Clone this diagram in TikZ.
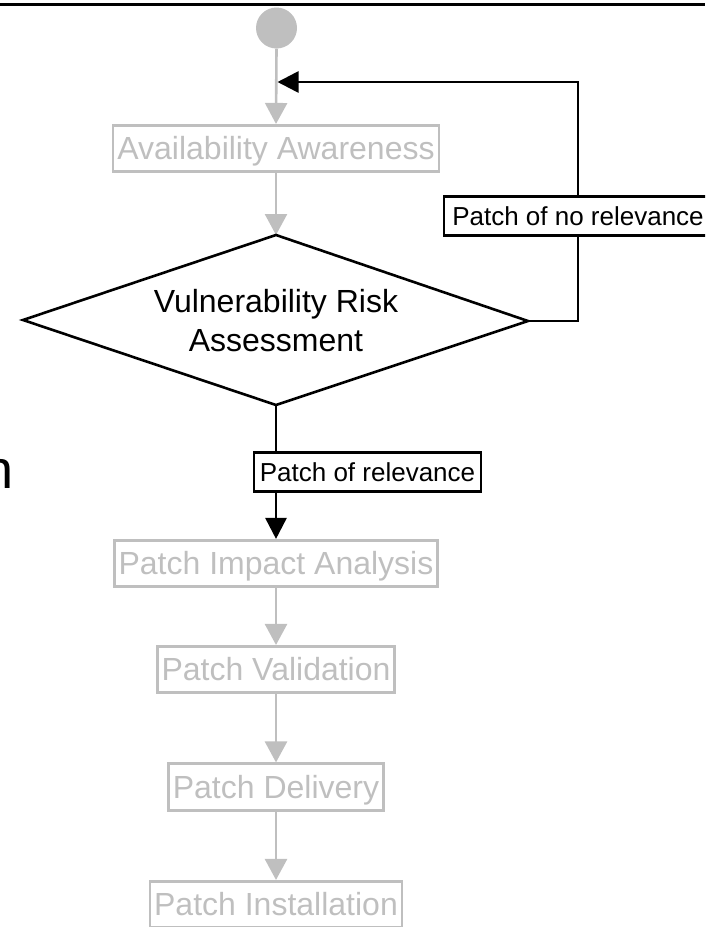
\documentclass[tikz,border=0pt]{standalone}
\usepackage{fontspec}
\setmainfont{Liberation Sans}
\usetikzlibrary{arrows.meta}
\definecolor{lgray}{RGB}{191,191,191}
\tikzset{
  graybox/.style={draw=lgray, text=lgray, line width=2.6pt, inner xsep=4.2pt, inner ysep=0pt,
    minimum height=46.5pt, text height=28.8pt, text depth=5.9pt, font=\fontsize{32}{38}\selectfont},
  lblbox/.style={draw=black, fill=white, text=black, line width=2.6pt, inner xsep=5.7pt, inner ysep=0pt,
    minimum height=39.4pt, text height=23pt, text depth=4.4pt, font=\fontsize{26}{30}\selectfont},
  grayarrow/.style={draw=lgray, line width=2.6pt, -{Triangle[length=21pt,width=22pt]}},
  blkline/.style={draw=black, line width=2.6pt},
  blkarrow/.style={draw=black, line width=2.6pt, -{Triangle[length=21pt,width=21pt]}},
}
\begin{document}
\begin{tikzpicture}[x=1pt,y=-1pt]
\useasboundingbox (0,0) rectangle (705,927);
\clip (0,0) rectangle (705,927);
% top rule
\draw[black, line width=2.7pt] (0,4.3) -- (705,4.3);
% cut-off letter at left
\node[font=\fontsize{54}{60}\selectfont, anchor=base west, inner sep=0pt] (ncut) at (-17,488) {n};
% start node
\node[circle, fill=lgray, minimum size=41pt, inner sep=0pt] (start) at (276.5,28) {};
% gray process boxes
\node[graybox] (aa) at (276,148.5) {Availability Awareness};
\node[graybox] (pia) at (276,563.5) {Patch Impact Analysis};
\node[graybox] (pv) at (276,669.5) {Patch Validation};
\node[graybox] (pd) at (276,787) {Patch Delivery};
\node[graybox] (pi) at (276,904.5) {Patch Installation};
% decision diamond
\coordinate (dT) at (276,235);
\coordinate (dR) at (528,321);
\coordinate (dB) at (276,405);
\coordinate (dL) at (23,320);
\coordinate (merge) at (277.5,82);
% gray connectors
\draw[grayarrow] (start.south) -- (aa.north);
\draw[grayarrow] (aa.south) -- (dT);
\draw[grayarrow] (pia.south) -- (pv.north);
\draw[grayarrow] (pv.south) -- (pd.north);
\draw[grayarrow] (pd.south) -- (pi.north);
% diamond
\draw[blkline, line join=miter] (dT) -- (dR) -- (dB) -- (dL) -- cycle;
\node[align=center, font=\fontsize{32}{39}\selectfont, inner sep=0pt] (vra) at (276,321) {Vulnerability Risk\\Assessment};
% labels
\node[lblbox, minimum width=268pt] (lbl1) at (578,216) {Patch of no relevance};
\node[lblbox] (lbl2) at (367.5,472) {Patch of relevance};
% black connectors
\draw[blkline] (dR) -| (lbl1.south);
\draw[blkarrow] (lbl1.north) |- (merge);
\draw[blkline] (dB) -- (dB |- lbl2.north);
\draw[blkarrow] (dB |- lbl2.south) -- (pia.north);
\end{tikzpicture}
\end{document}
